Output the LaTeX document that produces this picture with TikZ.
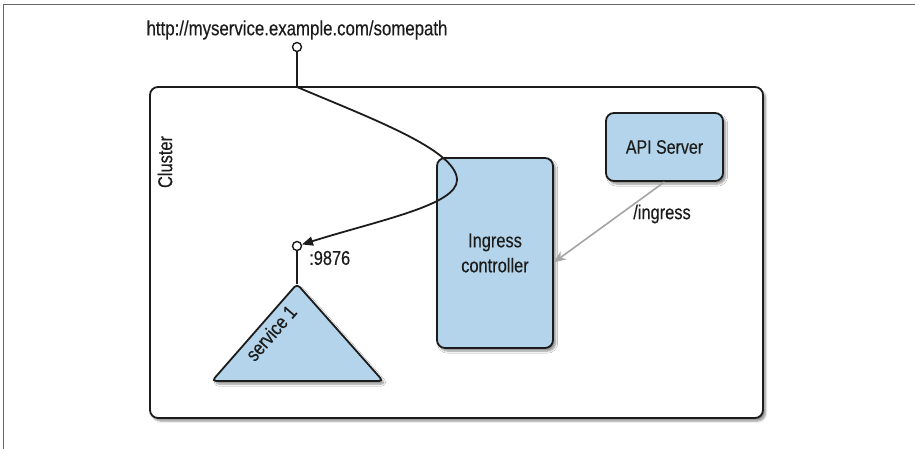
\documentclass[tikz,border=0pt]{standalone}
\usepackage{fontspec}
\setmainfont[FakeStretch=0.82,FakeBold=0.3]{Liberation Sans}
\usetikzlibrary{arrows.meta,shadows.blur,calc}
\definecolor{boxblue}{RGB}{179,212,234}
\definecolor{ink}{RGB}{28,28,28}
\definecolor{linkgray}{RGB}{165,165,165}
\begin{document}
\begin{tikzpicture}[x=1pt,y=-1pt,
  shadowed/.style={blur shadow={shadow xshift=2.5pt,shadow yshift=-3pt,shadow blur steps=6,shadow opacity=45}},
  box/.style={draw=ink,line width=1.8pt,fill=boxblue,rounded corners=8pt,shadowed,
    font=\fontsize{20}{25}\selectfont,text=ink,align=center,inner sep=0pt},
  tri/.style={draw=ink,line width=1.8pt,fill=boxblue,rounded corners=4pt,shadowed},
  port/.style={circle,draw=ink,fill=white,line width=1.4pt,inner sep=0pt,minimum size=9pt},
  wire/.style={draw=ink,line width=1.8pt},
  lbl/.style={font=\fontsize{20}{25}\selectfont,text=ink,inner sep=0pt}]

\path[use as bounding box] (0,0) rectangle (915,449);
% page frame
\draw[gray!80!black,line width=0.8pt] (3,449) -- (3,4) -- (915,4);

% cluster
\node[box,fill=white,minimum width=613pt,minimum height=331pt] (cluster) at (456.5,252.5) {};
\node[lbl,rotate=90] (clabel) at (165,162) {Cluster};

% components
\node[box,minimum width=116pt,minimum height=190pt] (ingress) at (495,253) {Ingress\\controller};
\node[box,minimum width=117pt,minimum height=68pt,font=\fontsize{19.5}{24}\selectfont] (api) at (664.5,147) {API Server};

% service
\coordinate (apex) at (297,284);
\draw[tri] (212,381) -- (apex) -- (383,381) -- cycle;
\node[lbl,rotate=49] (svc) at (271,333) {service 1};
\node[port] (p9876) at (297,246) {};
\draw[wire,line width=1.5pt] (p9876) -- (apex);
\node[lbl,anchor=west] (portlbl) at (309,258) {:9876};

% external entry point
\node[lbl,font=\fontsize{20.5}{25}\selectfont] (url) at (297,30) {http://myservice.example.com/somepath};
\node[port] (urlport) at (297,47) {};
\coordinate (entry) at (297,87);
\draw[wire,line width=1.5pt] (urlport) -- (entry);
\draw[wire,-{Triangle[length=11pt,width=9pt]}] (entry)
  .. controls (370,118) and (457,150) .. (457,180)
  .. controls (457,205) and (380,220) .. (p9876);

% API watch
\draw[draw=linkgray,line width=1.6pt,-{Stealth[length=12pt,width=10pt,inset=4pt]}] (api.south) -- (ingress.-9);
\node[lbl] (ingresslbl) at (662,214) {/ingress};
\end{tikzpicture}
\end{document}
